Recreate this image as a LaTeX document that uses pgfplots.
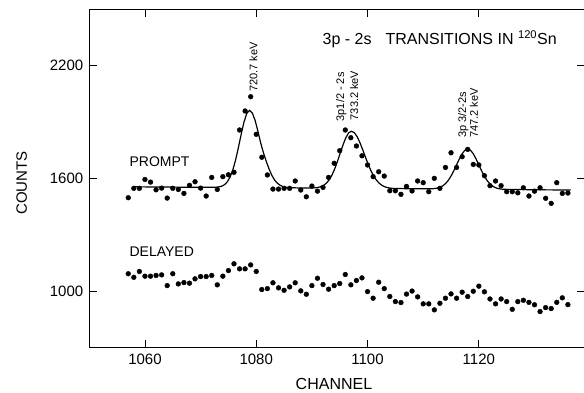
\documentclass[border=0pt]{standalone}
\usepackage{pgfplots}
\pgfplotsset{compat=1.18}
\usepackage{fontspec}
\setmainfont{Liberation Sans}
\begin{document}
\begin{tikzpicture}
\useasboundingbox (0pt,0pt) rectangle (584pt,393pt);
\begin{axis}[
  at={(89.3pt,45.3pt)}, anchor=south west,
  scale only axis, width=495.3pt, height=338.7pt,
  xmin=1050, xmax=1139, ymin=700, ymax=2500,
  xtick={1060,1080,1100,1120}, ytick={1000,1600,2200},
  tick align=inside, major tick length=8pt,
  tick style={black, line width=0.8pt},
  axis line style={line width=0.8pt},
  ticklabel style={font=\fontsize{15}{17}\selectfont},
  /pgf/number format/assume math mode=true,
  /pgf/number format/1000 sep={},
  xticklabel style={yshift=-3pt},
  yticklabel style={xshift=-2.5pt},
  xlabel={CHANNEL},
  xlabel style={font=\fontsize{16}{18}\selectfont, at={(axis description cs:0.494,-0.108)}, anchor=center},
  ylabel={COUNTS},
  ylabel style={font=\fontsize{15}{17}\selectfont, at={(axis description cs:-0.1365,0.486)}, anchor=center},
  clip=false,
]
% fitted curve
\addplot[black, line width=1.2pt] coordinates {
(1058,1555) (1065,1553.5) (1070,1552.4) (1072.8,1553) (1073.3,1555) (1073.8,1558.5)
(1074.3,1566.5) (1074.8,1581.5) (1075.3,1606.7) (1075.8,1645.6) (1076.3,1699)
(1076.8,1764.6) (1077.3,1835.6) (1077.8,1899.7) (1078.3,1945.2) (1078.8,1961.5)
(1079.3,1947) (1079.8,1908) (1080.3,1850) (1080.8,1788) (1081.3,1735) (1081.8,1690)
(1082.3,1650) (1082.8,1616) (1083.3,1591) (1083.8,1574) (1084.3,1563) (1084.8,1556)
(1085.3,1552.6) (1085.8,1550.7) (1088,1548.6) (1090.1,1548.9) (1090.6,1549.8)
(1091.1,1551.8) (1091.6,1555.7) (1092.1,1562.7) (1092.6,1574.2) (1093.1,1591.8)
(1093.6,1616.9) (1094.1,1650.3) (1094.6,1690.5) (1095.1,1734.8) (1095.6,1778.8)
(1096.1,1816.3) (1096.6,1841.5) (1097.1,1850.5) (1097.6,1843.4) (1098.1,1822.9)
(1098.6,1791.9) (1099.1,1754.4) (1099.6,1714.4) (1100.1,1675.6) (1100.6,1641.2)
(1101.1,1612.6) (1101.6,1590.3) (1102.1,1574.0) (1102.6,1562.7) (1103.1,1555.3)
(1103.6,1550.7) (1104.1,1548.0) (1104.6,1546.4) (1108,1544.5) (1111.5,1544.4)
(1112,1545.6) (1112.5,1548.0) (1113,1552.4) (1113.5,1559.9) (1114,1571.8)
(1114.5,1589.0) (1115,1612.1) (1115.5,1640.4) (1116,1672.1) (1116.5,1703.7)
(1117,1731.0) (1117.5,1749.4) (1118,1755.9) (1118.5,1749.2) (1119,1730.6)
(1119.5,1703.1) (1120,1671.3) (1120.5,1639.4) (1121,1610.8) (1121.5,1587.5)
(1122,1570.1) (1122.5,1558.0) (1123,1550.3) (1123.5,1545.7) (1124,1543.1)
(1124.5,1541.7) (1130,1539.3) (1136.5,1537.9)
};
% prompt data
\addplot[only marks, mark=*, mark size=2.4pt, black] coordinates {
(1057,1497) (1058,1547) (1059,1547) (1060,1594) (1061,1580) (1062,1539) (1063,1548)
(1064,1495) (1065,1547) (1066,1541) (1067,1520) (1068,1563) (1069,1582) (1070,1548)
(1071,1506) (1072,1605) (1073,1541) (1074,1609) (1075,1619) (1076,1632) (1077,1857)
(1078,1958) (1079,2034) (1080,1834) (1081,1712) (1082,1618) (1083,1543) (1084,1543)
(1085,1547) (1086,1547) (1087,1586) (1088,1538) (1089,1502) (1090,1559) (1091,1532)
(1092,1552) (1093,1605) (1094,1680) (1095,1747) (1096,1857) (1097,1816) (1098,1772)
(1099,1720) (1100,1671) (1101,1609) (1102,1635) (1103,1612) (1104,1534) (1105,1534)
(1106,1515) (1107,1557) (1108,1533) (1109,1586) (1110,1577) (1111,1529) (1112,1600)
(1113,1547) (1114,1658) (1115,1736) (1116,1658) (1117,1715) (1118,1754) (1119,1674)
(1120,1671) (1121,1614) (1122,1561) (1123,1586) (1124,1561) (1125,1529) (1126,1529)
(1127,1523) (1128,1550) (1129,1506) (1130,1532) (1131,1550) (1132,1494) (1133,1467)
(1134,1577) (1135,1520) (1136,1522)
};
% delayed data
\addplot[only marks, mark=*, mark size=2.4pt, black] coordinates {
(1057,1093) (1058,1074) (1059,1105) (1060,1080) (1061,1080) (1062,1084) (1063,1087)
(1064,1030) (1065,1093) (1066,1039) (1067,1046) (1068,1043) (1069,1066) (1070,1078)
(1071,1078) (1072,1084) (1073,1034) (1074,1080) (1075,1110) (1076,1146) (1077,1119)
(1078,1119) (1079,1140) (1080,1105) (1081,1009) (1082,1014) (1083,1045) (1084,1018)
(1085,1005) (1086,1023) (1087,1045) (1088,1002) (1089,984) (1090,1030) (1091,1069)
(1092,1036) (1093,1011) (1094,1030) (1095,1041) (1096,1089) (1097,1034) (1098,1057)
(1099,1071) (1100,998) (1101,963) (1102,1048) (1103,1014) (1104,972) (1105,945)
(1106,940) (1107,985) (1108,1001) (1109,970) (1110,933) (1111,933) (1112,901)
(1113,936) (1114,963) (1115,986) (1116,963) (1117,995) (1118,972) (1119,1000)
(1120,1027) (1121,997) (1122,959) (1123,933) (1124,959) (1125,945) (1126,904)
(1127,945) (1128,952) (1129,941) (1130,928) (1131,892) (1132,913) (1133,908)
(1134,941) (1135,965) (1136,929)
};
\node[anchor=west, inner sep=0pt, font=\fontsize{14}{16}\selectfont] at (axis cs:1057.2,1689) {PROMPT};
\node[anchor=west, inner sep=0pt, font=\fontsize{14}{16}\selectfont] at (axis cs:1057.2,1211) {DELAYED};
\node[anchor=west, inner sep=0pt, font=\fontsize{16}{18}\selectfont] at (axis cs:1091.9,2340) {3p - 2s\hspace{14pt}TRANSITIONS IN \textsuperscript{120}Sn};
\node[rotate=90, anchor=west, inner sep=0pt, font=\fontsize{11}{13}\selectfont] at (axis cs:1079.5,2060) {720.7 keV};
\node[rotate=90, anchor=west, inner sep=0pt, font=\fontsize{11}{13}\selectfont] at (axis cs:1095.3,1902) {3p1/2 - 2s};
\node[rotate=90, anchor=west, inner sep=0pt, font=\fontsize{11}{13}\selectfont] at (axis cs:1097.6,1908) {733.2 keV};
\node[rotate=90, anchor=west, inner sep=0pt, font=\fontsize{11}{13}\selectfont] at (axis cs:1117.2,1814) {3p 3/2-2s};
\node[rotate=90, anchor=west, inner sep=0pt, font=\fontsize{11}{13}\selectfont] at (axis cs:1119.1,1815) {747.2 keV};
\end{axis}
\end{tikzpicture}
\end{document}
